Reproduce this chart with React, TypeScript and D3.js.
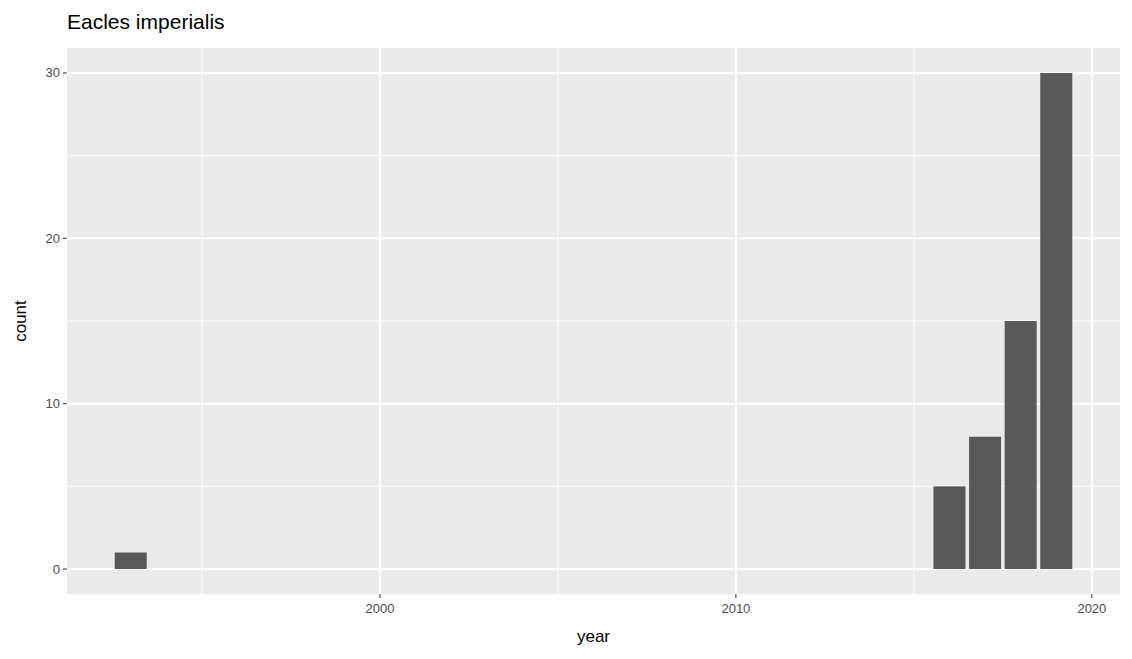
import * as d3 from 'd3';

const years = [1993, 2016, 2017, 2018, 2019];
const counts = [1, 5, 8, 15, 30];
const xTicks = [2000, 2010, 2020];
const xMinor = [1995, 2005, 2015];
const yTicks = [0, 10, 20, 30];
const yMinor = [5, 15, 25];

export default function App() {
  const W = 1132, H = 659;
  const left = 67, right = 1120, top = 48, bottom = 594;
  const x = d3.scaleLinear().domain([1991.21, 2020.79]).range([left, right]);
  const y = d3.scaleLinear().domain([-1.51, 31.51]).range([bottom, top]);
  const bw = x(0.9) - x(0);
  const font = 'Liberation Sans, Arial, sans-serif';
  return (
    <svg width={W} height={H} style={{ display: 'block', margin: -8, fontFamily: font }}>
      <rect width={W} height={H} fill="#fff" />
      <rect x={left} y={top} width={right - left} height={bottom - top} fill="#ebebeb" />
      {xMinor.map(v => <line key={'xm' + v} x1={x(v)} x2={x(v)} y1={top} y2={bottom} stroke="#fff" strokeWidth={1} />)}
      {yMinor.map(v => <line key={'ym' + v} y1={y(v)} y2={y(v)} x1={left} x2={right} stroke="#fff" strokeWidth={1} />)}
      {xTicks.map(v => <line key={'x' + v} x1={x(v)} x2={x(v)} y1={top} y2={bottom} stroke="#fff" strokeWidth={2} />)}
      {yTicks.map(v => <line key={'y' + v} y1={y(v)} y2={y(v)} x1={left} x2={right} stroke="#fff" strokeWidth={2} />)}
      {years.map((yr, i) => (
        <rect key={yr} x={x(yr) - bw / 2} width={bw} y={y(counts[i])} height={y(0) - y(counts[i])} fill="#595959" />
      ))}
      {xTicks.map(v => (
        <g key={'xt' + v}>
          <line x1={x(v)} x2={x(v)} y1={bottom} y2={bottom + 4} stroke="#333" />
          <text x={x(v)} y={bottom + 19} textAnchor="middle" fontSize={13} fill="#4d4d4d">{v}</text>
        </g>
      ))}
      {yTicks.map(v => (
        <g key={'yt' + v}>
          <line x1={left - 4} x2={left} y1={y(v)} y2={y(v)} stroke="#333" />
          <text x={left - 7} y={y(v) + 4.5} textAnchor="end" fontSize={13} fill="#4d4d4d">{v}</text>
        </g>
      ))}
      <text x={(left + right) / 2} y={642} textAnchor="middle" fontSize={17} fill="#000">year</text>
      <text transform={`translate(26,${(top + bottom) / 2}) rotate(-90)`} textAnchor="middle" fontSize={17} fill="#000">count</text>
      <text x={left} y={29} fontSize={21} fill="#000">Eacles imperialis</text>
    </svg>
  );
}
